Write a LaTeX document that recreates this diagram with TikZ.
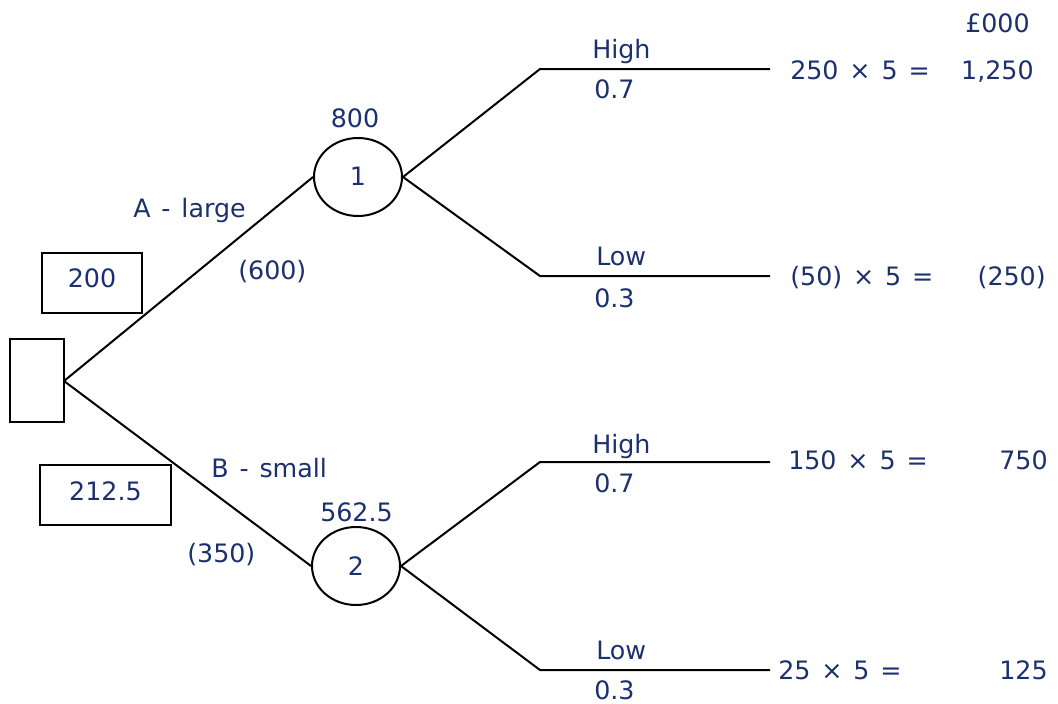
\documentclass[tikz,border=0pt]{standalone}
\usepackage{fontspec}
\setmainfont[WordSpace=1.35]{DejaVu Sans}
\usetikzlibrary{shapes.geometric}
\definecolor{navy}{RGB}{28,48,110}
\begin{document}
\begin{tikzpicture}[x=0.75pt,y=-0.75pt,
  txt/.style={inner sep=0pt,text=navy,font=\fontsize{19}{21}\selectfont},
  box/.style={draw,line width=1.5pt,inner sep=0pt},
  chance/.style={draw,ellipse,line width=1.5pt,minimum width=66pt,minimum height=58.5pt,inner sep=0pt,text=navy,font=\fontsize{19}{21}\selectfont},
  branch/.style={line width=1.5pt}]
\useasboundingbox (0,0) rectangle (1058,704);
% decision node
\node[box,minimum width=40.5pt,minimum height=62pt] (d) at (37,380.5) {};
\coordinate (dr) at (64,381);
% value boxes
\node[box,minimum width=75pt,minimum height=45pt] (v1) at (92,283) {};
\node[txt,anchor=base] (v1t) at (92,287) {200};
\node[box,minimum width=98pt,minimum height=45pt] (v2) at (105.5,495) {};
\node[txt,anchor=base] (v2t) at (105.5,500) {212.5};
% chance nodes
\node[chance] (c1) at (358,177) {};
\node[txt,anchor=base] (c1t) at (358,185) {1};
\node[chance] (c2) at (356,566) {};
\node[txt,anchor=base] (c2t) at (356,575) {2};
% end coordinates
\coordinate (h1a) at (540,69);  \coordinate (h1b) at (770,69);
\coordinate (l1a) at (540,276); \coordinate (l1b) at (770,276);
\coordinate (h2a) at (540,462); \coordinate (h2b) at (770,462);
\coordinate (l2a) at (540,670); \coordinate (l2b) at (770,670);
% branches
\draw[branch] (dr) -- (c1.west);
\draw[branch] (dr) -- (c2.west);
\draw[branch] (c1.east) -- (h1a) -- (h1b);
\draw[branch] (c1.east) -- (l1a) -- (l1b);
\draw[branch] (c2.east) -- (h2a) -- (h2b);
\draw[branch] (c2.east) -- (l2a) -- (l2b);
% labels
\node[txt,anchor=base] (n800) at (355,127) {800};
\node[txt,anchor=base west] (al) at (133,217) {A - large};
\node[txt,anchor=base west] (a600) at (238,279) {(600)};
\node[txt,anchor=base west] (bs) at (211,477) {B - small};
\node[txt,anchor=base west] (n562) at (320,521) {562.5};
\node[txt,anchor=base west] (b350) at (187,562) {(350)};
\node[txt,anchor=base west] (hi1) at (592,58) {High};
\node[txt,anchor=base west] (p1) at (594,98) {0.7};
\node[txt,anchor=base west] (lo1) at (596,265) {Low};
\node[txt,anchor=base west] (p2) at (594,307) {0.3};
\node[txt,anchor=base west] (hi2) at (592,453) {High};
\node[txt,anchor=base west] (p3) at (594,492) {0.7};
\node[txt,anchor=base west] (lo2) at (596,659) {Low};
\node[txt,anchor=base west] (p4) at (594,699) {0.3};
% outcomes
\node[txt,anchor=base east] (unit) at (1030,32) {£000};
\node[txt,anchor=base west] (e1) at (790,79) {250 × 5 =};
\node[txt,anchor=base east] (r1) at (1034,79) {1,250};
\node[txt,anchor=base west] (e2) at (790,285) {(50) × 5 =};
\node[txt,anchor=base east] (r2) at (1046,285) {(250)};
\node[txt,anchor=base west] (e3) at (788,469) {150 × 5 =};
\node[txt,anchor=base east] (r3) at (1048,469) {750};
\node[txt,anchor=base west] (e4) at (778,679) {25 × 5 =};
\node[txt,anchor=base east] (r4) at (1048,679) {125};
\end{tikzpicture}
\end{document}
